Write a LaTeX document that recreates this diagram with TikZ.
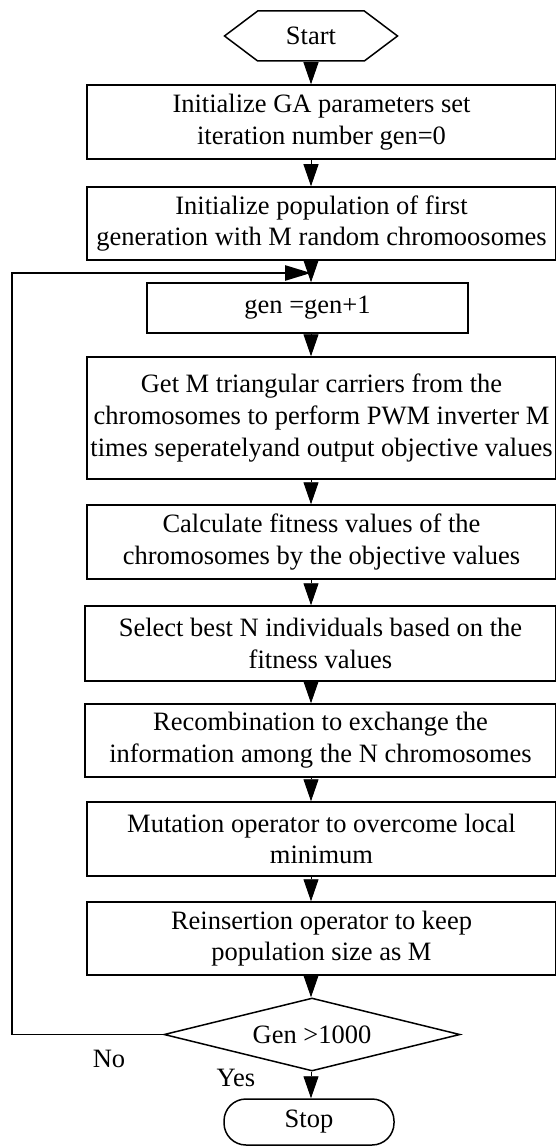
\documentclass[tikz,border=0pt]{standalone}
\usepackage{fontspec}
\setmainfont{Liberation Serif}
\usetikzlibrary{shapes.geometric,shapes.symbols,arrows.meta}

\begin{document}
\begin{tikzpicture}[x=1pt,y=-1pt,
		every node/.style={font=\fontsize{26.5}{31.7}\selectfont},
		stepbox/.style={draw,line width=1.5pt,rectangle,align=center,minimum width=469pt,inner sep=0pt},
		arr/.style={line width=0.9pt,-{Triangle[length=22pt,width=15pt]}},
		back/.style={line width=2.6pt,-{Triangle[length=26pt,width=15pt]}}]
		\useasboundingbox (0,0) rectangle (555,1147);
		\node[draw,line width=1.5pt,signal,signal to=west and east,signal pointer angle=74,minimum width=173pt,minimum height=50pt,inner sep=0pt] (start) at (311,36) {Start};
		\node[stepbox,minimum height=74pt] (init) at (321.5,122) {Initialize GA parameters set\\ iteration number gen=0};
		\node[stepbox,minimum height=73pt] (pop) at (321.5,223.5) {Initialize population of first\\generation with M random chromoosomes};
		\node[stepbox,minimum width=321pt,minimum height=50pt] (gen) at (307.5,308) {gen =gen+1};
		\node[stepbox,minimum height=122pt] (pwm) at (321.5,418) {Get M triangular carriers from the\\chromosomes to perform PWM inverter M\\times seperatelyand output objective values};
		\node[stepbox,minimum height=74pt] (fit) at (321.5,542) {Calculate fitness values of the\\chromosomes by the objective values};
		\node[stepbox,minimum width=471pt,minimum height=75pt] (sel) at (320.5,643.5) {Select best N individuals based on the\\fitness values};
		\node[stepbox,minimum width=471pt,minimum height=73pt] (rec) at (320.5,740.5) {Recombination to exchange the\\information among the N chromosomes};
		\node[stepbox,minimum height=74pt] (mut) at (321.5,839) {Mutation operator to overcome local\\minimum};
		\node[stepbox,minimum height=73pt] (ins) at (321.5,938.5) {Reinsertion operator to keep\\population size as M};
		\node[draw,line width=1.5pt,diamond,aspect=4.05,minimum width=296pt,minimum height=73pt,inner sep=0pt] (dec) at (312,1034.5) {Gen >1000};
		\node[draw,line width=1.5pt,rectangle,rounded corners=22pt,minimum width=170pt,minimum height=46pt] (stop) at (309,1122) {Stop};
		\node (no) at (109,1059) {No};
		\node (yes) at (236,1078) {Yes};
		\coordinate (lp) at (12,273);
		\draw[arr] (start.south) -- (init.north -| start);
		\draw[arr] (init.south -| start) -- (pop.north -| start);
		\draw[arr] (pop.south -| start) -- (gen.north -| start);
		\draw[arr] (gen.south -| start) -- (pwm.north -| start);
		\draw[arr] (pwm.south -| start) -- (fit.north -| start);
		\draw[arr] (fit.south -| start) -- (sel.north -| start);
		\draw[arr] (sel.south -| start) -- (rec.north -| start);
		\draw[arr] (rec.south -| start) -- (mut.north -| start);
		\draw[arr] (mut.south -| start) -- (ins.north -| start);
		\draw[arr] (ins.south -| start) -- (dec.north -| start);
		\draw[arr] (dec.south -| start) -- (stop.north -| start);
		\draw[line width=1pt] (dec.west) -- (dec.west -| lp);
		\draw[back] (dec.west -| lp) -- (lp) -- (lp -| start);
	\end{tikzpicture}
\end{document}
